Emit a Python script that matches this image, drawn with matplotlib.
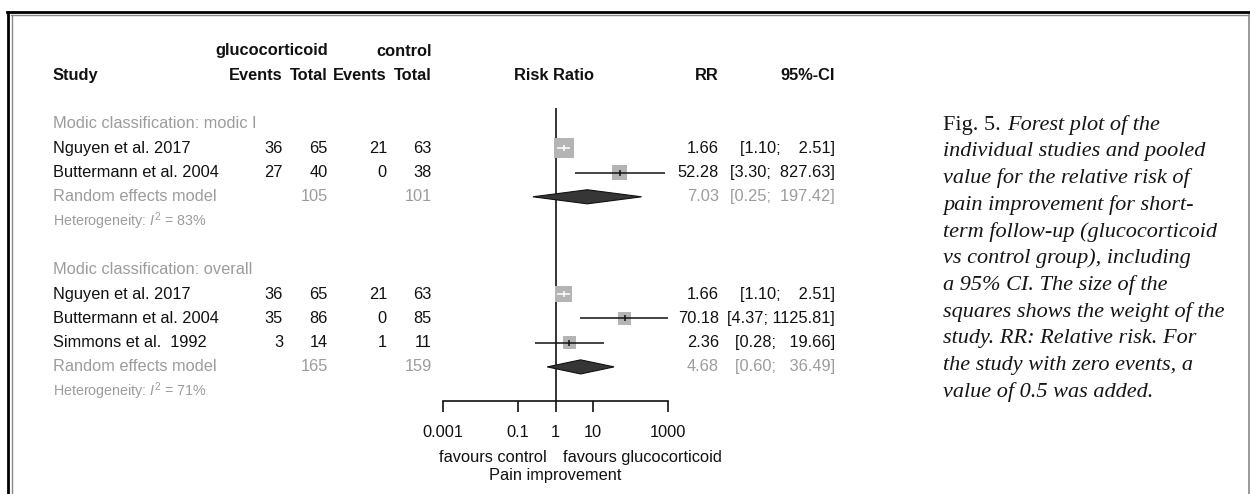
#!/usr/bin/env python3
# Forest plot: glucocorticoid vs control, pain improvement (short-term)
import numpy as np
import matplotlib.pyplot as plt
from matplotlib.lines import Line2D
from matplotlib.ticker import NullLocator

plt.rcParams['font.family'] = ['Liberation Sans', 'DejaVu Sans']
plt.rcParams['mathtext.fontset'] = 'custom'
plt.rcParams['mathtext.rm'] = 'Liberation Sans'
plt.rcParams['mathtext.it'] = 'Liberation Sans:italic'

# subgroup 1: modic I
g1_label = "Modic classification: modic I"
g1_study = ["Nguyen et al. 2017", "Buttermann et al. 2004"]
g1_ev_t = [36, 27]
g1_n_t = [65, 40]
g1_ev_c = [21, 0]
g1_n_c = [63, 38]
g1_rr = [1.66, 52.28]
g1_lo = [1.10, 3.30]
g1_hi = [2.51, 827.63]
g1_w = [64, 36]
g1_pool = [7.03, 0.25, 197.42]
g1_tot = [105, 101]
g1_i2 = 83

# subgroup 2: overall
g2_label = "Modic classification: overall"
g2_study = ["Nguyen et al. 2017", "Buttermann et al. 2004", "Simmons et al.  1992"]
g2_ev_t = [36, 35, 3]
g2_n_t = [65, 86, 14]
g2_ev_c = [21, 0, 1]
g2_n_c = [63, 85, 11]
g2_rr = [1.66, 70.18, 2.36]
g2_lo = [1.10, 4.37, 0.28]
g2_hi = [2.51, 1125.81, 19.66]
g2_w = [46, 27, 24]
g2_pool = [4.68, 0.60, 36.49]
g2_tot = [165, 159]
g2_i2 = 71

ticks = [0.001, 0.1, 1, 10, 1000]
tick_labels = ["0.001", "0.1", "1", "10", "1000"]

caption = ["individual studies and pooled",
           "value for the relative risk of",
           "pain improvement for short-",
           "term follow-up (glucocorticoid",
           "vs control group), including",
           "a 95% CI. The size of the",
           "squares shows the weight of the",
           "study. RR: Relative risk. For",
           "the study with zero events, a",
           "value of 0.5 was added."]

W, H = 1250, 494
Y0, DY = 51, 24.3          # pixel y of row 0, row height
AX_L, AX_R, AX_B = 443, 668, 401
BLACK = '#111111'
GRAY = '#9c9c9c'
FS = 11.8


def ypix(row):
    return Y0 + DY * row


def row_of(p):
    return (p - Y0) / DY


# width of the upper CI bound column, padded with spaces like R does
all_hi = g1_hi + g2_hi + [g1_pool[2], g2_pool[2]]
all_lo = g1_lo + g2_lo + [g1_pool[1], g2_pool[1]]
HI_W = max(len("%.2f" % v) for v in all_hi)
LO_W = max(len("%.2f" % v) for v in all_lo)


def fmt_ci(lo, hi):
    return "[%*.2f; %*.2f]" % (LO_W, lo, HI_W, hi)


fig = plt.figure(figsize=(W / 100, H / 100), dpi=100)
fig.patch.set_facecolor('white')

# text layer in pixel coordinates
tx = fig.add_axes([0, 0, 1, 1])
tx.set_xlim(0, W)
tx.set_ylim(H, 0)
tx.axis('off')

# forest layer on log scale
ax = fig.add_axes([AX_L / W, (H - AX_B) / H, (AX_R - AX_L) / W, AX_B / H])
ax.set_xscale('log')
ax.set_xlim(0.001, 1000)
ax.set_ylim(row_of(AX_B), row_of(0))
ax.patch.set_visible(False)
for s in ['top', 'left', 'right']:
    ax.spines[s].set_visible(False)
ax.spines['bottom'].set_linewidth(1.2)
ax.spines['bottom'].set_color(BLACK)
ax.set_yticks([])
ax.set_xticks(ticks)
ax.set_xticklabels(tick_labels)
ax.xaxis.set_minor_locator(NullLocator())
ax.tick_params(axis='x', direction='out', length=8, width=1.2, color=BLACK,
               labelsize=FS, labelcolor=BLACK, pad=9)

# reference line at RR = 1
ax.vlines(1, 2.35, row_of(AX_B), color=BLACK, lw=1.2, zorder=1)

# headers
hdr = dict(fontsize=FS, fontweight='bold', color=BLACK, va='center')
tx.text(328, ypix(0), "glucocorticoid", ha='right', **hdr)
tx.text(432, ypix(0), "control", ha='right', **hdr)
tx.text(53, ypix(1), "Study", ha='left', **hdr)
tx.text(283, ypix(1), "Events", ha='right', **hdr)
tx.text(328, ypix(1), "Total", ha='right', **hdr)
tx.text(387, ypix(1), "Events", ha='right', **hdr)
tx.text(432, ypix(1), "Total", ha='right', **hdr)
tx.text(554, ypix(1), "Risk Ratio", ha='center', **hdr)
tx.text(719, ypix(1), "RR", ha='right', **hdr)
tx.text(835, ypix(1), "95%-CI", ha='right', **hdr)

px_per_decade = (AX_R - AX_L) / 6.0

groups = [
    (3, g1_label, g1_study, g1_ev_t, g1_n_t, g1_ev_c, g1_n_c, g1_rr, g1_lo, g1_hi, g1_w, g1_pool, g1_tot, g1_i2),
    (9, g2_label, g2_study, g2_ev_t, g2_n_t, g2_ev_c, g2_n_c, g2_rr, g2_lo, g2_hi, g2_w, g2_pool, g2_tot, g2_i2),
]

for r0, label, study, ev_t, n_t, ev_c, n_c, rr, lo, hi, w, pool, tot, i2 in groups:
    tx.text(53, ypix(r0), label, ha='left', va='center', fontsize=FS, color=GRAY)
    rows = np.arange(len(study)) + r0 + 1
    for i, r in enumerate(rows):
        y = ypix(r)
        kw = dict(fontsize=FS, color=BLACK, va='center')
        tx.text(53, y, study[i], ha='left', **kw)
        tx.text(283, y, str(ev_t[i]), ha='right', **kw)
        tx.text(328, y, str(n_t[i]), ha='right', **kw)
        tx.text(387, y, str(ev_c[i]), ha='right', **kw)
        tx.text(432, y, str(n_c[i]), ha='right', **kw)
        tx.text(719, y, "%.2f" % rr[i], ha='right', **kw)
        tx.text(835, y, fmt_ci(lo[i], hi[i]), ha='right', **kw)

        side_px = 20 * np.sqrt(w[i] / 64.0)
        ax.scatter([rr[i]], [r], marker='s', s=(side_px * 0.72) ** 2,
                   color='#b4b4b4', edgecolors='none', zorder=2)
        half = side_px / 2.0
        inside = (np.log10(hi[i] / rr[i]) * px_per_decade < half and
                  np.log10(rr[i] / lo[i]) * px_per_decade < half)
        lc = 'white' if inside else BLACK
        ax.hlines(r, lo[i], hi[i], color=lc, lw=1.1, zorder=3)
        ax.plot([rr[i]], [r], marker='|', ms=5, mew=1.1, color=lc, zorder=3)

    # pooled estimate
    rp = r0 + len(study) + 1
    y = ypix(rp)
    kw = dict(fontsize=FS, color=GRAY, va='center')
    tx.text(53, y, "Random effects model", ha='left', **kw)
    tx.text(328, y, str(tot[0]), ha='right', **kw)
    tx.text(432, y, str(tot[1]), ha='right', **kw)
    tx.text(719, y, "%.2f" % pool[0], ha='right', **kw)
    tx.text(835, y, fmt_ci(pool[1], pool[2]), ha='right', **kw)
    h = 0.29
    ax.fill([pool[1], pool[0], pool[2], pool[0]], [rp, rp - h, rp, rp + h],
            facecolor='#363636', edgecolor=BLACK, lw=0.8, zorder=3)

    tx.text(53, ypix(rp + 1), "Heterogeneity: $I^2$ = %d%%" % i2, ha='left',
            va='center', fontsize=10.3, color=GRAY)

# axis annotations
tx.text(547, 457, "favours control", ha='right', va='center', fontsize=FS, color=BLACK)
tx.text(563, 457, "favours glucocorticoid", ha='left', va='center', fontsize=FS, color=BLACK)
tx.text(555, 475, "Pain improvement", ha='center', va='center', fontsize=FS, color=BLACK)

# caption
cap = dict(fontsize=16, color='#151515', va='center', family='Liberation Serif')
tx.text(943, 125, "Fig. 5.", ha='left', **cap)
tx.text(1007, 125, "Forest plot of the", ha='left', style='italic', **cap)
for i, line in enumerate(caption):
    tx.text(943, 125 + 26.7 * (i + 1), line, ha='left', style='italic', **cap)


# page frame
def fline(xs, ys, **kw):
    fig.add_artist(Line2D([x / W for x in xs], [1 - y / H for y in ys],
                          transform=fig.transFigure, **kw))


fline([7, W], [12, 12], color='black', lw=2.0)
fline([11, W], [15.5, 15.5], color='#888888', lw=1.0)
fline([8, 8], [12, H], color='black', lw=2.0)
fline([11.5, 11.5], [15.5, H], color='#888888', lw=1.0)
fline([1249, 1249], [15.5, H], color='#888888', lw=1.2)

fig.savefig("out.png", dpi=100)
